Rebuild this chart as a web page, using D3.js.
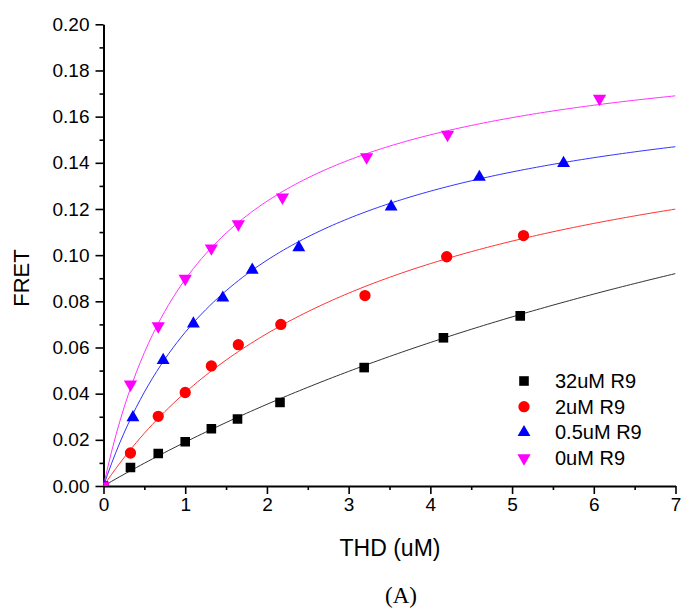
<!DOCTYPE html>
<html lang="en">
<head>
  <meta charset="UTF-8">
  <title>FRET vs THD</title>
  <script src="https://d3js.org/d3.v7.min.js"></script>
  <style>
    body { margin: 0; padding: 0; background: #fff; }
    .tick text { font-family: "Liberation Sans", Arial, sans-serif; font-size: 19px; fill: #000; }
    .tick line { stroke: #000; stroke-width: 1.6px; }
    .domain { stroke: #000; stroke-width: 2px; }
  </style>
</head>
<body>
  <div id="chart"></div>
  <script>
    // series labels
    const seriesNames = ["32uM R9", "2uM R9", "0.5uM R9", "0uM R9"];
    const seriesColors = ["#000000", "#ff0000", "#0000ff", "#ff00ff"];
    const lineColors = ["#333333", "#ff3333", "#3333ff", "#ff33ff"];

    const thd32 = [0, 0.33, 0.67, 1.00, 1.32, 1.64, 2.16, 3.19, 4.16, 5.10];
    const fret32 = [0, 0.0080, 0.0141, 0.0192, 0.0248, 0.0290, 0.0362, 0.0513, 0.0642, 0.0737];
    const thd2 = [0, 0.33, 0.67, 1.00, 1.32, 1.65, 2.17, 3.20, 4.20, 5.14];
    const fret2 = [0, 0.0143, 0.0302, 0.0405, 0.0520, 0.0612, 0.0700, 0.0825, 0.0993, 0.1085];
    const thd05 = [0, 0.36, 0.73, 1.10, 1.46, 1.82, 2.39, 3.52, 4.60, 5.63];
    const fret05 = [0, 0.0297, 0.0545, 0.0703, 0.0815, 0.0936, 0.1033, 0.1210, 0.1338, 0.1398];
    const thd0 = [0, 0.33, 0.67, 1.00, 1.32, 1.65, 2.19, 3.22, 4.21, 6.07];
    const fret0 = [0, 0.0440, 0.0693, 0.0898, 0.1030, 0.1135, 0.1250, 0.1425, 0.1522, 0.1678];

    // hyperbolic fit y = Bmax * x / (Kd + x)
    const fitKd = [12.46, 3.40, 1.763, 1.217];
    const fitBmax = [0.2558, 0.1782, 0.184, 0.1984];

    const xTicks = [0, 1, 2, 3, 4, 5, 6, 7];
    const yTicks = [0, 0.02, 0.04, 0.06, 0.08, 0.10, 0.12, 0.14, 0.16, 0.18, 0.20];

    const xs = [thd32, thd2, thd05, thd0];
    const ys = [fret32, fret2, fret05, fret0];

    const width = 683, height = 612;
    const plotLeft = 103.5, plotRight = 675.5, plotTop = 24.3, plotBottom = 486;

    const svg = d3.select("#chart").append("svg")
      .attr("width", width)
      .attr("height", height);

    const x = d3.scaleLinear().domain([0, 7]).range([plotLeft, plotRight]);
    const y = d3.scaleLinear().domain([0, 0.2]).range([plotBottom, plotTop]);

    svg.append("clipPath").attr("id", "plotclip")
      .append("rect")
        .attr("x", plotLeft).attr("y", plotTop)
        .attr("width", plotRight - plotLeft).attr("height", plotBottom - plotTop);

    // minor ticks
    svg.append("g")
      .attr("transform", `translate(0,${plotBottom})`)
      .call(d3.axisBottom(x).tickValues(d3.range(0.5, 7, 1)).tickSize(4).tickFormat(""))
      .call(g => g.select(".domain").remove());
    svg.append("g")
      .attr("transform", `translate(${plotLeft},0)`)
      .call(d3.axisLeft(y).tickValues(d3.range(0.01, 0.2, 0.02)).tickSize(4).tickFormat(""))
      .call(g => g.select(".domain").remove());

    // major axes
    svg.append("g")
      .attr("transform", `translate(0,${plotBottom})`)
      .call(d3.axisBottom(x).tickValues(xTicks).tickSize(8).tickSizeOuter(0).tickPadding(4).tickFormat(d3.format("d")));
    svg.append("g")
      .attr("transform", `translate(${plotLeft},0)`)
      .call(d3.axisLeft(y).tickValues(yTicks).tickSize(8).tickSizeOuter(0).tickPadding(6).tickFormat(d3.format(".2f")));

    const plot = svg.append("g").attr("clip-path", "url(#plotclip)");

    const line = d3.line().x(d => x(d[0])).y(d => y(d[1]));
    const symbols = [
      d3.symbol().type(d3.symbolSquare).size(92),
      d3.symbol().type(d3.symbolCircle).size(100),
      d3.symbol().type(d3.symbolTriangle).size(72),
      d3.symbol().type(d3.symbolTriangle).size(76)
    ];
    const rotations = [0, 0, 0, 180];

    seriesNames.forEach((name, i) => {
      const curve = d3.range(0, 7.001, 0.05).map(t => [t, fitBmax[i] * t / (fitKd[i] + t)]);
      plot.append("path")
        .attr("d", line(curve))
        .attr("fill", "none")
        .attr("stroke", lineColors[i])
        .attr("stroke-width", 1);
    });

    seriesNames.forEach((name, i) => {
      const pts = xs[i].map((v, j) => [v, ys[i][j]]);
      plot.selectAll(null).data(pts).enter().append("path")
        .attr("d", symbols[i]())
        .attr("transform", d => `translate(${x(d[0])},${y(d[1])}) rotate(${rotations[i]})`)
        .attr("fill", seriesColors[i]);
    });

    // legend
    const legend = svg.append("g").attr("transform", "translate(524,381)");
    seriesNames.forEach((name, i) => {
      const row = legend.append("g").attr("transform", `translate(0,${i * 25.7})`);
      row.append("path")
        .attr("d", symbols[i]())
        .attr("transform", `rotate(${rotations[i]})`)
        .attr("fill", seriesColors[i]);
      row.append("text")
        .attr("x", 31)
        .attr("y", 7)
        .style("font-family", "'Liberation Sans', Arial, sans-serif")
        .style("font-size", "20px")
        .text(name);
    });

    // axis titles
    svg.append("text")
      .attr("x", 390)
      .attr("y", 556)
      .attr("text-anchor", "middle")
      .style("font-family", "'Liberation Sans', Arial, sans-serif")
      .style("font-size", "23px")
      .text("THD (uM)");

    svg.append("text")
      .attr("transform", "translate(29,278) rotate(-90)")
      .attr("text-anchor", "middle")
      .style("font-family", "'Liberation Sans', Arial, sans-serif")
      .style("font-size", "22px")
      .text("FRET");

    svg.append("text")
      .attr("x", 401)
      .attr("y", 603)
      .attr("text-anchor", "middle")
      .style("font-family", "'Liberation Serif', 'Times New Roman', serif")
      .style("font-size", "23px")
      .text("(A)");
  </script>
</body>
</html>
